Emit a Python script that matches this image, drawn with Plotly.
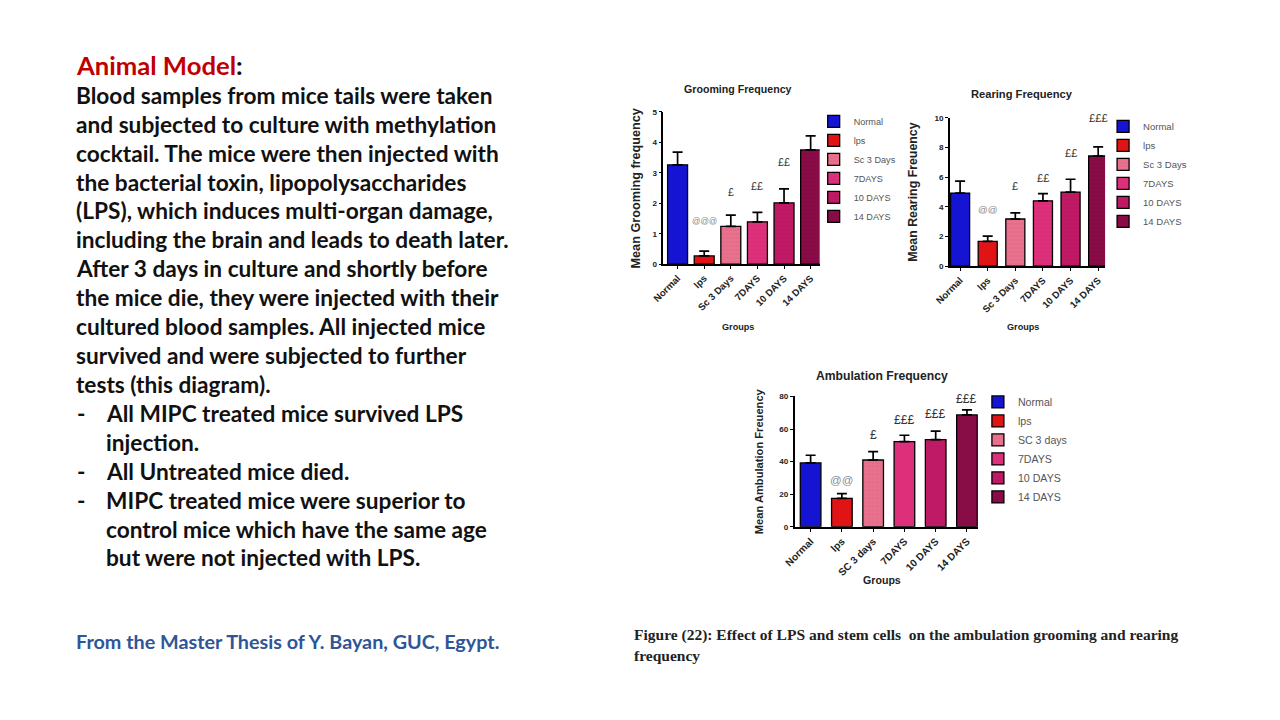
import plotly.graph_objects as go

# page canvas is 1280x720; the figure is shrunk by the default 8px body margin
PAGE_W, PAGE_H = 1280, 720
OFF = 8
W, H = PAGE_W - 2 * OFF, PAGE_H - 2 * OFF
# empirical mapping from page pixels to the photographed picture
SX, OX = 0.986, 17.5
SY, OY = 0.985, 5.5

# ---------------- data ----------------
groom_cats = ["Normal", "lps", "Sc 3 Days", "7DAYS", "10 DAYS", "14 DAYS"]
groom_legend = ["Normal", "lps", "Sc 3 Days", "7DAYS", "10 DAYS", "14 DAYS"]
groom_mean = [3.26, 0.27, 1.24, 1.39, 2.01, 3.75]
groom_sem = [0.42, 0.16, 0.37, 0.31, 0.46, 0.46]
groom_sig = ["", "@@@", "£", "££", "££", "£££"]
groom_sig_y = [0, 1.43, 2.36, 2.58, 3.37, 5.08]

rear_cats = ["Normal", "lps", "Sc 3 Days", "7DAYS", "10 DAYS", "14 DAYS"]
rear_legend = ["Normal", "lps", "Sc 3 Days", "7DAYS", "10 DAYS", "14 DAYS"]
rear_mean = [4.93, 1.67, 3.18, 4.41, 5.0, 7.43]
rear_sem = [0.81, 0.36, 0.42, 0.48, 0.86, 0.61]
rear_sig = ["", "@@", "£", "££", "££", "£££"]
rear_sig_y = [0, 3.83, 5.4, 5.97, 7.66, 10.0]

amb_cats = ["Normal", "lps", "SC 3 days", "7DAYS", "10 DAYS", "14 DAYS"]
amb_legend = ["Normal", "lps", "SC 3 days", "7DAYS", "10 DAYS", "14 DAYS"]
amb_mean = [39.2, 17.4, 41.0, 52.3, 53.5, 68.7]
amb_sem = [4.7, 2.9, 5.2, 3.9, 5.2, 3.1]
amb_sig = ["", "@@", "£", "£££", "£££", "£££"]
amb_sig_y = [0, 28.5, 56.2, 65.8, 69.5, 78.6]

bar_colors = ["#1414d2", "#e01414", "#e9728f", "#e0307c", "#c11a66", "#8a0c47"]
pattern_fg = [None, None, "#c24d6c", "#b81c5e", "#9a0f4e", "#6a0634"]

body_lines = [
    "Blood samples from mice tails were taken",
    "and subjected to culture with methylation",
    "cocktail. The mice were then injected with",
    "the bacterial toxin, lipopolysaccharides",
    "(LPS), which induces multi-organ damage,",
    "including the brain and leads to death later.",
    "After 3 days in culture and shortly before",
    "the mice die, they were injected with their",
    "cultured blood samples. All injected mice",
    "survived and were subjected to further",
    "tests (this diagram).",
]
bullet_lines = [
    ("-", "All MIPC treated mice survived LPS"),
    ("", "injection."),
    ("-", "All Untreated mice died."),
    ("-", "MIPC treated mice were superior to"),
    ("", "control mice which have the same age"),
    ("", "but were not injected with LPS."),
]
source_text = "From the Master Thesis of Y. Bayan, GUC, Egypt."
caption_lines = [
    "Figure (22): Effect of LPS and stem cells  on the ambulation grooming and rearing",
    "frequency",
]

# ---------------- layout helpers ----------------
def px_x(x):
    xp = (x - OX) / SX
    return (xp - OFF) / W

def px_y(y):
    yp = (y - OY) / SY
    return 1 - (yp - OFF) / H

def fs(s):
    return s / SX

AX_FONT = "Liberation Sans, Arial, sans-serif"

charts = [
    dict(cats=groom_cats, legend_names=groom_legend, mean=groom_mean, sem=groom_sem,
         sig=groom_sig, sig_y=groom_sig_y, xpx=(664, 820), ypx=(265, 113), yrange=[0, 5],
         dtick=1, xrange=[-0.53, 5.34], bw=0.75, pattern="-",
         at_size=8.2, pound_size=10.5,
         title="Grooming Frequency", title_xy=(738, 90), title_size=10.5,
         ytitle="Mean Grooming frequency", ytitle_x=637, ytitle_size=12.5,
         groups_xy=(738, 328), groups_size=9, tick_size=9.5,
         legend_xy=(814, 108), legend_size=9, legend_key="legend"),
    dict(cats=rear_cats, legend_names=rear_legend, mean=rear_mean, sem=rear_sem,
         sig=rear_sig, sig_y=rear_sig_y, xpx=(950, 1105), ypx=(267, 119), yrange=[0, 10],
         dtick=2, xrange=[-0.37, 5.25], bw=0.69, pattern="-",
         at_size=9.5, pound_size=11,
         title="Rearing Frequency", title_xy=(1022, 95), title_size=11,
         ytitle="Mean Rearing Freuency", ytitle_x=913, ytitle_size=12.2,
         groups_xy=(1023, 328), groups_size=9, tick_size=9.5,
         legend_xy=(1103, 113), legend_size=9.4, legend_key="legend2"),
    dict(cats=amb_cats, legend_names=amb_legend, mean=amb_mean, sem=amb_sem,
         sig=amb_sig, sig_y=amb_sig_y, xpx=(795, 978), ypx=(527, 397), yrange=[0, 80],
         dtick=20, xrange=[-0.51, 5.35], bw=0.66, pattern="+",
         at_size=11.3, pound_size=12,
         title="Ambulation Frequency", title_xy=(882, 377), title_size=12,
         ytitle="Mean Ambulation Freuency", ytitle_x=759, ytitle_size=11,
         groups_xy=(882, 580), groups_size=10.5, tick_size=10,
         legend_xy=(978, 388), legend_size=10.5, legend_key="legend3"),
]

fig = go.Figure()
annotations = []
layout_axes = {}

for ci, ch in enumerate(charts):
    n = "" if ci == 0 else str(ci + 1)
    xa, ya = "x" + n, "y" + n
    for i, cat in enumerate(ch["cats"]):
        marker = dict(color=bar_colors[i], line=dict(color="black", width=1.3))
        if pattern_fg[i]:
            marker["pattern"] = dict(shape=ch["pattern"], fgcolor=pattern_fg[i],
                                     fgopacity=0.45, size=4, solidity=0.15)
        fig.add_trace(go.Bar(
            x=[cat], y=[ch["mean"][i]], name=ch["legend_names"][i],
            width=ch["bw"], marker=marker,
            error_y=dict(type="data", array=[ch["sem"][i]], arrayminus=[0],
                         symmetric=False, color="black", thickness=1.7, width=5),
            xaxis=xa, yaxis=ya, legend=ch["legend_key"], showlegend=True,
            hoverinfo="skip",
        ))
        if ch["sig"][i]:
            is_at = ch["sig"][i].startswith("@")
            annotations.append(dict(
                x=cat, y=ch["sig_y"][i], xref=xa, yref=ya, text=ch["sig"][i],
                showarrow=False, xanchor="center", yanchor="middle",
                font=dict(family=AX_FONT,
                          size=fs(ch["at_size"] if is_at else ch["pound_size"]),
                          color="#8a8a8a" if is_at else "#333333")))
    x0, x1 = ch["xpx"]
    y0, y1 = ch["ypx"]
    layout_axes["xaxis" + n] = dict(
        domain=[px_x(x0), px_x(x1)], anchor=ya, type="category",
        categoryorder="array", categoryarray=ch["cats"], range=ch["xrange"],
        showline=True, linecolor="black", linewidth=1.5, ticks="outside",
        ticklen=3, tickwidth=1, tickcolor="black", tickangle=-45,
        tickfont=dict(family=AX_FONT, size=fs(ch["tick_size"]), color="#222222",
                      weight="bold"),
        showgrid=False, zeroline=False, fixedrange=True)
    layout_axes["yaxis" + n] = dict(
        domain=[px_y(y0), px_y(y1)], anchor=xa, range=ch["yrange"], dtick=ch["dtick"],
        showline=True, linecolor="black", linewidth=1.5, ticks="outside",
        ticklen=3, tickwidth=1, tickcolor="black",
        tickfont=dict(family=AX_FONT, size=fs(8), color="#222222", weight="bold"),
        showgrid=False, zeroline=False, fixedrange=True)
    lx, ly = ch["legend_xy"]
    layout_axes[ch["legend_key"]] = dict(
        x=px_x(lx), y=px_y(ly), xanchor="left", yanchor="top",
        bgcolor="rgba(0,0,0,0)", itemwidth=30, tracegroupgap=0,
        font=dict(family=AX_FONT, size=fs(ch["legend_size"]), color="#555555"))
    tx, ty = ch["title_xy"]
    annotations.append(dict(x=px_x(tx), y=px_y(ty), xref="paper", yref="paper",
                            text=ch["title"], showarrow=False, xanchor="center",
                            yanchor="middle",
                            font=dict(family=AX_FONT, size=fs(ch["title_size"]),
                                      color="#222222", weight="bold")))
    annotations.append(dict(x=px_x(ch["ytitle_x"]), y=px_y((y0 + y1) / 2), xref="paper",
                            yref="paper", text=ch["ytitle"], showarrow=False,
                            textangle=-90, xanchor="center", yanchor="middle",
                            font=dict(family=AX_FONT, size=fs(ch["ytitle_size"]),
                                      color="#222222", weight="bold")))
    gx, gy = ch["groups_xy"]
    annotations.append(dict(x=px_x(gx), y=px_y(gy), xref="paper", yref="paper",
                            text="Groups", showarrow=False, xanchor="center",
                            yanchor="middle",
                            font=dict(family=AX_FONT, size=fs(ch["groups_size"]),
                                      color="#222222", weight="bold")))

# ---------------- left text ----------------
TXT_FONT = "Lato, 'Open Sans', sans-serif"
BODY_SIZE = fs(22.35)

def left_text(x, y, text, size, color="#111111", family=TXT_FONT):
    annotations.append(dict(x=px_x(x), y=px_y(y), xref="paper", yref="paper",
                            text=text, showarrow=False, xanchor="left", yanchor="middle",
                            align="left",
                            font=dict(family=family, size=size, color=color,
                                      weight="bold")))

left_text(75, 66, "<span style='color:#c00000'>Animal Model</span>:", fs(25.3))
line_y0, line_dy = 96.5, 28.85
for i, t in enumerate(body_lines):
    left_text(75, line_y0 + i * line_dy, t, BODY_SIZE)
for j, (dash, t) in enumerate(bullet_lines):
    yy = line_y0 + (len(body_lines) + j) * line_dy
    if dash:
        left_text(76, yy, dash, BODY_SIZE)
    left_text(105, yy, t, BODY_SIZE)
left_text(75, 641, source_text, fs(19.5), color="#2f5597")

for k, t in enumerate(caption_lines):
    left_text(633, 635 + k * 20, t, fs(15.3), color="#222222",
              family="Liberation Serif, 'Times New Roman', serif")

fig.update_layout(
    width=W, height=H, autosize=False,
    margin=dict(l=0, r=0, t=0, b=0),
    paper_bgcolor="white", plot_bgcolor="white",
    barmode="overlay", showlegend=True,
    annotations=annotations,
    **layout_axes,
)

fig.write_html("out.html")
